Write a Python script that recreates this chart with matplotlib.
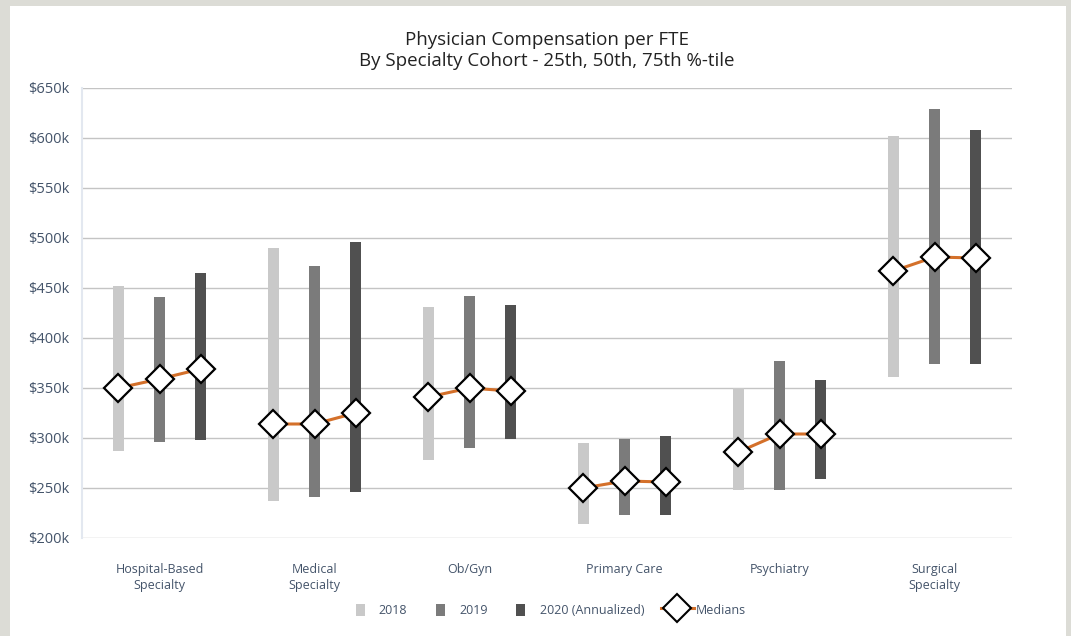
import numpy as np
import matplotlib
matplotlib.use("Agg")
import matplotlib.pyplot as plt
from matplotlib.lines import Line2D
from matplotlib.patches import Patch, Rectangle
from matplotlib.legend_handler import HandlerPatch

plt.rcParams['font.family'] = ['Open Sans', 'DejaVu Sans']

# data (in $k)
categories = ["Hospital-Based\nSpecialty", "Medical\nSpecialty", "Ob/Gyn",
              "Primary Care", "Psychiatry", "Surgical\nSpecialty"]
years = ["2018", "2019", "2020 (Annualized)"]

p25 = {
    "2018": [287, 237, 278, 214, 248, 361],
    "2019": [296, 241, 290, 223, 248, 374],
    "2020 (Annualized)": [298, 246, 299, 223, 259, 374],
}
p50 = {
    "2018": [350, 314, 341, 250, 286, 467],
    "2019": [359, 314, 350, 257, 304, 481],
    "2020 (Annualized)": [369, 325, 347, 256, 304, 480],
}
p75 = {
    "2018": [452, 490, 431, 295, 350, 602],
    "2019": [441, 472, 442, 299, 377, 629],
    "2020 (Annualized)": [465, 496, 433, 302, 358, 608],
}

yticks = [200, 250, 300, 350, 400, 450, 500, 550, 600, 650]
ytick_labels = ["$%dk" % v for v in yticks]

bar_colors = ["#c9c9c9", "#7b7b7b", "#505050"]
orange = "#d4702a"
label_color = "#44546a"

fig = plt.figure(figsize=(10.71, 6.36), dpi=100)
fig.patch.set_facecolor("#dcdcd6")
# white card behind everything
fig.patches.append(Rectangle((10 / 1071, 0), (1066 - 10) / 1071, 1 - 6 / 636,
                             transform=fig.transFigure, facecolor="white",
                             edgecolor="none", zorder=-5))

ax = fig.add_axes([82 / 1071, 1 - 538 / 636, (1012 - 82) / 1071, (538 - 88) / 636])
ax.set_zorder(2)
ax.patch.set_alpha(0)

x = np.arange(len(categories))
offsets = [-0.265, 0.0, 0.265]
width = 0.068

for i, yr in enumerate(years):
    lo = np.array(p25[yr])
    hi = np.array(p75[yr])
    ax.bar(x + offsets[i], hi - lo, bottom=lo, width=width,
           color=bar_colors[i], zorder=2)

# medians with connecting line per category
for c in range(len(categories)):
    xs = [c + o for o in offsets]
    ys = [p50[yr][c] for yr in years]
    ax.plot(xs, ys, color=orange, lw=2.2, zorder=3)
    ax.plot(xs, ys, ls="none", marker="D", markersize=14,
            markerfacecolor="white", markeredgecolor="black",
            markeredgewidth=1.6, zorder=4)

ax.set_xlim(-0.5, len(categories) - 0.5)
ax.set_ylim(200, 650)
ax.set_yticks(yticks)
ax.set_yticklabels(ytick_labels, fontsize=10.5, color=label_color)
ax.set_xticks(x)
ax.set_xticklabels(categories, fontsize=9, color=label_color, linespacing=1.35)
ax.tick_params(axis="both", length=0)
ax.tick_params(axis="x", pad=18)
ax.tick_params(axis="y", pad=9)

ax.grid(axis="y", color="#c4c4c4", lw=1, zorder=1)
ax.set_axisbelow(True)
for s in ["top", "right", "bottom"]:
    ax.spines[s].set_visible(False)
ax.spines["left"].set_color("#e3e8f0")
ax.spines["left"].set_linewidth(1.5)

fig.text(547 / 1071, 1 - 40 / 636, "Physician Compensation per FTE",
         ha="center", va="center", fontsize=13.5, color="#222222")
fig.text(547 / 1071, 1 - 61 / 636, "By Specialty Cohort - 25th, 50th, 75th %-tile",
         ha="center", va="center", fontsize=13.5, color="#222222")


def narrow_box(legend, orig_handle, xdescent, ydescent, width, height, fontsize):
    return Rectangle((xdescent + 0.36 * width, -ydescent + 0.1 * height),
                     0.28 * width, 0.8 * height)


handles = [Patch(facecolor=bar_colors[i], edgecolor="none") for i in range(3)]
handles.append(Line2D([0], [0], color=orange, lw=2.2, marker="D", markersize=14,
                      markerfacecolor="white", markeredgecolor="black",
                      markeredgewidth=1.5))
leg = fig.legend(handles, years + ["Medians"], loc="center",
                 bbox_to_anchor=(545 / 1071, 1 - 610 / 636), ncol=4,
                 frameon=False, fontsize=9, handlelength=2.6, handleheight=1.5,
                 columnspacing=1.35, handletextpad=0.2,
                 handler_map={Patch: HandlerPatch(patch_func=narrow_box)})
for t in leg.get_texts():
    t.set_color(label_color)

fig.savefig("out.png", dpi=100, facecolor=fig.get_facecolor())
